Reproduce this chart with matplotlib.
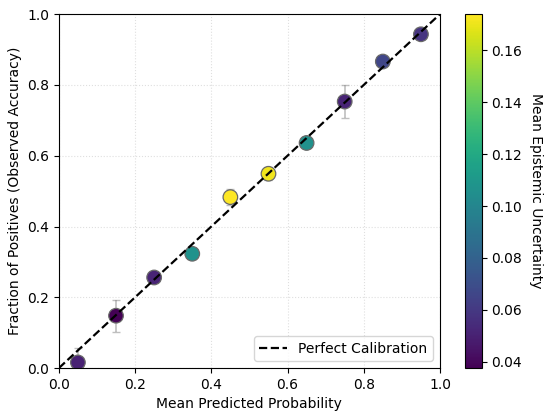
import numpy as np
import matplotlib
matplotlib.use("Agg")
import matplotlib.pyplot as plt

bin_centers = [0.05, 0.15, 0.25, 0.35, 0.45, 0.55, 0.65, 0.75, 0.85, 0.95]
observed = [0.016, 0.148, 0.256, 0.323, 0.483, 0.549, 0.636, 0.753, 0.866, 0.943]
obs_err = [0.042, 0.045, 0.008, 0.008, 0.022, 0.018, 0.008, 0.046, 0.008, 0.008]
epistemic = [0.050, 0.0375, 0.051, 0.107, 0.174, 0.171, 0.106, 0.051, 0.066, 0.058]

fig = plt.figure(figsize=(5.5, 4.15), dpi=100)
ax = fig.add_axes([0.107, 0.113, 0.693, 0.853])
cax = fig.add_axes([0.845, 0.113, 0.031, 0.853])

ax.errorbar(bin_centers, observed, yerr=obs_err, fmt='none', ecolor='grey',
            alpha=0.5, capsize=3, elinewidth=1.2, zorder=1)
sc = ax.scatter(bin_centers, observed, c=epistemic, cmap='viridis', s=110,
                edgecolors='dimgray', linewidths=0.9, zorder=2)
ax.plot([0, 1], [0, 1], 'k--', lw=1.6, label='Perfect Calibration', zorder=3)

ax.set_xlim(0, 1)
ax.set_ylim(0, 1)
ax.set_xlabel('Mean Predicted Probability', fontsize=10)
ax.set_ylabel('Fraction of Positives (Observed Accuracy)', fontsize=10)
ax.tick_params(labelsize=10)
ax.grid(True, linestyle=':', alpha=0.4)
ax.legend(loc='lower right', fontsize=10)

cb = fig.colorbar(sc, cax=cax)
cb.set_label('Mean Epistemic Uncertainty', rotation=270, labelpad=15, fontsize=10)
cb.ax.tick_params(labelsize=10)

fig.savefig('out.png', dpi=100)
